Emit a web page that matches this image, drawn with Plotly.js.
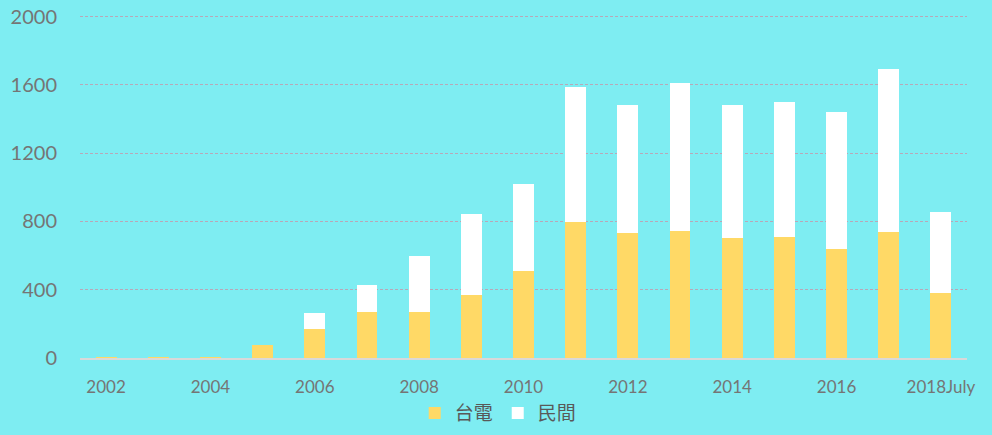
<!DOCTYPE html>
<html>
<head>
<meta charset="utf-8">
<script src="https://cdn.plot.ly/plotly-3.0.1.min.js"></script>
<style>
html,body{margin:0;padding:0;background:#7eedf2;}
#chart{width:992px;height:435px;}
</style>
</head>
<body>
<div id="chart"></div>
<script>
var categories = ["2002","2003","2004","2005","2006","2007","2008","2009","2010","2011","2012","2013","2014","2015","2016","2017","2018July"];
var taipower = [5, 4, 4, 78, 170, 269, 270, 369, 509, 796, 732, 744, 703, 708, 638, 738, 381];
var privateSector = [0, 0, 0, 0, 93, 158, 327, 474, 510, 791, 749, 866, 778, 791, 802, 954, 474];
var tickLabels = ["2002","2004","2006","2008","2010","2012","2014","2016","2018July"];
var yTicks = [0, 400, 800, 1200, 1600, 2000];

var traces = [
  {type:"bar", name:"台電", x:categories, y:taipower, marker:{color:"#ffd966"}, hoverinfo:"x+y"},
  {type:"bar", name:"民間", x:categories, y:privateSector, marker:{color:"#ffffff"}, hoverinfo:"x+y"}
];

var layout = {
  width:992, height:435,
  barmode:"stack",
  bargap:0.6,
  paper_bgcolor:"#7eedf2",
  plot_bgcolor:"#7eedf2",
  margin:{l:80, r:25, t:14, b:77, autoexpand:false},
  font:{family:"Lato, 'Noto Sans CJK TC', sans-serif", color:"#757575"},
  xaxis:{
    type:"category",
    tickmode:"array",
    tickvals:tickLabels,
    ticktext:tickLabels,
    tickfont:{size:17, color:"#757575"},
    showgrid:false,
    showline:true,
    linecolor:"#d9d9d9",
    linewidth:2,
    ticks:"outside",
    ticklen:13,
    tickcolor:"rgba(0,0,0,0)",
    zeroline:false,
    automargin:false,
    fixedrange:true
  },
  yaxis:{
    range:[0,2015],
    tickmode:"array",
    tickvals:yTicks,
    tickfont:{size:20, color:"#757575"},
    showgrid:true,
    gridcolor:"#b8a8b8",
    griddash:"3px,2px",
    gridwidth:1,
    zeroline:false,
    showline:false,
    ticks:"outside",
    ticklen:18,
    tickcolor:"rgba(0,0,0,0)",
    automargin:false,
    fixedrange:true
  },
  showlegend:true,
  legend:{
    orientation:"h",
    traceorder:"normal",
    x:0.4715, xanchor:"center",
    y:-0.16, yanchor:"middle",
    font:{size:19, color:"#595959", family:"'Noto Sans CJK TC', sans-serif"},
    itemwidth:30,
    bgcolor:"rgba(0,0,0,0)"
  }
};

Plotly.newPlot("chart", traces, layout, {displayModeBar:false, staticPlot:true});
</script>
</body>
</html>
